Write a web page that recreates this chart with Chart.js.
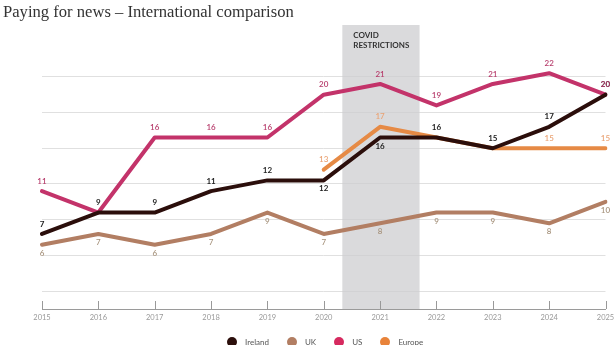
<!DOCTYPE html>
<html>
<head>
<meta charset="utf-8">
<script src="https://cdn.jsdelivr.net/npm/chart.js@4.4.1/dist/chart.umd.min.js"></script>
<style>
  html, body { margin: 0; padding: 0; background: #fff; overflow: hidden; }
  #wrap { position: relative; width: 614px; height: 345px; }
  #chart { position: absolute; left: 0; top: 0; }
  #title { position: absolute; left: 3px; top: 2px; font-family: "Liberation Serif", serif; font-size: 16.6px; color: #333; white-space: nowrap; }
  #legend { position: absolute; left: 227px; top: 337px; display: flex; align-items: center; font-family: Lato, sans-serif; font-size: 8px; color: #555; }
  #legend span.item { display: flex; align-items: center; margin-right: 18px; }
  #legend span.dot { width: 10px; height: 10px; border-radius: 50%; margin-right: 8px; }
</style>
</head>
<body>
<div id="wrap">
  <canvas id="chart" width="614" height="345"></canvas>
  <div id="title">Paying for news – International comparison</div>
  <div id="legend"></div>
</div>
<script>
const years = ['2015', '2016', '2017', '2018', '2019', '2020', '2021', '2022', '2023', '2024', '2025'];
const ireland = [7, 9, 9, 11, 12, 12, 16, 16, 15, 17, 20];
const uk = [6, 7, 6, 7, 9, 7, 8, 9, 9, 8, 10];
const us = [11, 9, 16, 16, 16, 20, 21, 19, 21, 22, 20];
const europe = [null, null, null, null, null, 13, 17, 16, 15, 15, 15];
const seriesNames = ['Ireland', 'UK', 'US', 'Europe'];
// horizontal guide lines (not on round numbers in the original)
const gridValues = [5 / 3, 5, 25 / 3, 35 / 3, 15, 55 / 3, 65 / 3];
// covid band, in year-index units on the x axis
const covidBand = [5.33, 6.7];
const covidText = ['COVID', 'RESTRICTIONS'];

const lineColors = ['#2b0e0b', '#b27e63', '#c3336a', '#e68a45'];
const labelColors = ['#222', '#a8957f', '#b73d6c', '#eaa476'];
const dotColors = ['#2b0e0b', '#b27e63', '#d62a5f', '#e8833a'];

// legend
const legendEl = document.getElementById('legend');
seriesNames.forEach((name, i) => {
  const item = document.createElement('span');
  item.className = 'item';
  item.innerHTML = `<span class="dot" style="background:${dotColors[i]}"></span>${name}`;
  legendEl.appendChild(item);
});

const covidShade = {
  id: 'covidShade',
  beforeDatasetsDraw(chart) {
    const {ctx, chartArea, scales: {x}} = chart;
    const x0 = x.getPixelForValue(covidBand[0]);
    const x1 = x.getPixelForValue(covidBand[1]);
    ctx.save();
    ctx.fillStyle = 'rgba(205, 205, 208, 0.75)';
    ctx.fillRect(x0, chartArea.top, x1 - x0, chartArea.bottom - chartArea.top);
    ctx.fillStyle = '#333';
    ctx.font = 'bold 8px Lato, sans-serif';
    ctx.textBaseline = 'middle';
    covidText.forEach((t, i) => ctx.fillText(t, x0 + 11, chartArea.top + 10 + i * 10));
    ctx.restore();
  }
};

const axisTicks = {
  id: 'axisTicks',
  afterDraw(chart) {
    const {ctx, chartArea, scales: {x}} = chart;
    ctx.save();
    ctx.strokeStyle = '#999';
    ctx.lineWidth = 1;
    years.forEach((y, i) => {
      const px = Math.round(x.getPixelForValue(i)) + 0.5;
      ctx.beginPath();
      ctx.moveTo(px, chartArea.bottom - 8);
      ctx.lineTo(px, chartArea.bottom);
      ctx.stroke();
    });
    ctx.restore();
  }
};

const valueLabels = {
  id: 'valueLabels',
  afterDatasetsDraw(chart) {
    const ctx = chart.ctx;
    chart.data.datasets.forEach((ds, i) => {
      const meta = chart.getDatasetMeta(i);
      ctx.save();
      ctx.fillStyle = ds.labelColor;
      ctx.font = (i === 0 ? 'bold ' : '600 ') + '8px Lato, sans-serif';
      ctx.textAlign = 'center';
      ctx.textBaseline = 'middle';
      meta.data.forEach((pt, j) => {
        const v = ds.data[j];
        if (v == null || ds.labelSkip.includes(j)) return;
        const below = ds.labelBelow.includes(j);
        ctx.fillText(v, pt.x, below ? pt.y + 8.5 : pt.y - 10);
      });
      ctx.restore();
    });
  }
};

function line(i, data, labelBelow, labelSkip) {
  return {
    label: seriesNames[i],
    data: data,
    borderColor: lineColors[i],
    backgroundColor: lineColors[i],
    borderWidth: 4,
    pointRadius: 0,
    tension: 0,
    borderCapStyle: 'round',
    borderJoinStyle: 'round',
    labelColor: labelColors[i],
    labelBelow: labelBelow,
    labelSkip: labelSkip
  };
}

new Chart(document.getElementById('chart'), {
  type: 'line',
  data: {
    labels: years,
    datasets: [
      line(0, ireland, [5, 6], []),
      line(1, uk, [0, 1, 2, 3, 4, 5, 6, 7, 8, 9, 10], []),
      line(2, us, [], [1]),
      line(3, europe, [], [7, 8])
    ]
  },
  options: {
    responsive: false,
    animation: false,
    maintainAspectRatio: false,
    layout: { padding: { left: 42, right: 8.5, top: 25, bottom: 19 } },
    plugins: {
      legend: { display: false },
      tooltip: { enabled: false }
    },
    scales: {
      x: {
        offset: false,
        afterFit: s => { s.paddingLeft = 0; s.paddingRight = 0; },
        grid: { display: false, drawTicks: false },
        border: { display: true, color: '#9a9a9a', width: 1 },
        ticks: { color: '#999', font: { family: 'Lato, sans-serif', size: 7.5 }, padding: 4, maxRotation: 0, autoSkip: false }
      },
      y: {
        min: 0,
        max: 26.5,
        afterBuildTicks: scale => { scale.ticks = gridValues.map(v => ({ value: v })); },
        grid: { color: '#e0e0e0', lineWidth: 1, drawTicks: false },
        border: { display: false },
        ticks: { display: false }
      }
    }
  },
  plugins: [covidShade, valueLabels, axisTicks]
});
</script>
</body>
</html>
